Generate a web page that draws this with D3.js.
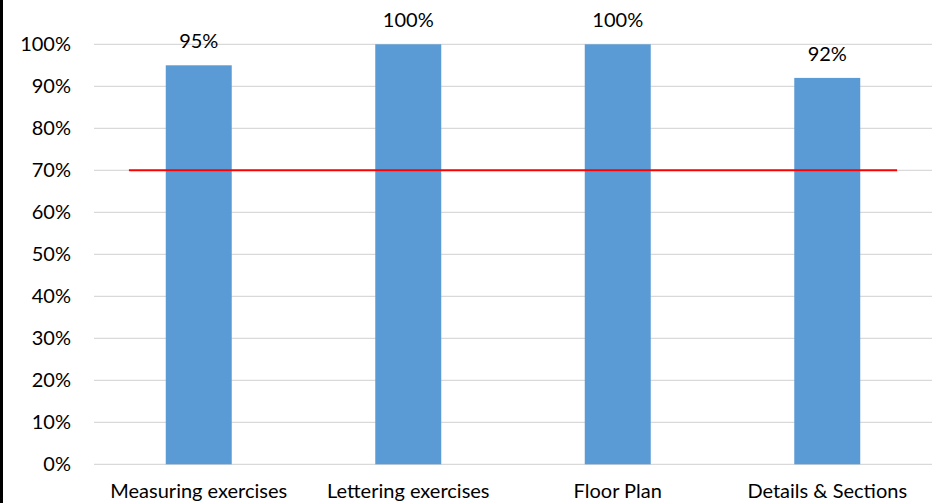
<!DOCTYPE html>
<html>
<head>
<meta charset="utf-8">
<script src="https://cdn.jsdelivr.net/npm/d3@7"></script>
<style>
  html, body { margin: 0; padding: 0; background: #fff; }
  svg { display: block; }
  text { font-family: Lato, "Open Sans", sans-serif; fill: #000; }
</style>
</head>
<body>
<svg id="chart" width="951" height="503"></svg>
<script>
// Completion rates per exercise, with the 70% target line
const categories = ["Measuring exercises", "Lettering exercises", "Floor Plan", "Details & Sections"];
const completion = [95, 100, 100, 92];
const target = 70;
const yTicks = [0, 10, 20, 30, 40, 50, 60, 70, 80, 90, 100];

const svg = d3.select("#chart");
const W = 951, H = 503;
const margin = { left: 94, right: 19, top: 44.3, bottom: 38.7 };
const fs = 20;

// frame edge on the left
svg.append("rect").attr("x", 0).attr("y", 0).attr("width", 3).attr("height", H).attr("fill", "#000");

const x = d3.scaleBand().domain(categories).range([margin.left, W - margin.right]).paddingInner(0).paddingOuter(0);
const y = d3.scaleLinear().domain([0, 100]).range([H - margin.bottom, margin.top]);
const barW = x.bandwidth() * 0.315;

// gridlines
svg.append("g").selectAll("line").data(yTicks).join("line")
  .attr("x1", margin.left).attr("x2", W - margin.right)
  .attr("y1", d => y(d)).attr("y2", d => y(d))
  .attr("stroke", "#d9d9d9").attr("stroke-width", 1.3);

// y axis labels
const yAxis = d3.axisLeft(y).tickValues(yTicks).tickFormat(d => d + "%").tickSize(0).tickPadding(0);
const yg = svg.append("g").attr("transform", `translate(${margin.left - 23},0)`).call(yAxis);
yg.select(".domain").remove();
yg.selectAll("text").attr("font-size", fs).attr("font-family", "Lato, sans-serif").attr("fill", "#000");

// bars
svg.append("g").selectAll("rect").data(completion).join("rect")
  .attr("x", (d, i) => x(categories[i]) + x.bandwidth() / 2 - barW / 2)
  .attr("width", barW)
  .attr("y", d => y(d))
  .attr("height", d => y(0) - y(d))
  .attr("fill", "#5b9bd5");

// value labels
svg.append("g").selectAll("text").data(completion).join("text")
  .attr("x", (d, i) => x(categories[i]) + x.bandwidth() / 2)
  .attr("y", d => y(d) - 17)
  .attr("text-anchor", "middle")
  .attr("font-size", fs)
  .text(d => d + "%");

// target line
const cx0 = x(categories[0]) + x.bandwidth() / 2;
const cx1 = x(categories[categories.length - 1]) + x.bandwidth() / 2;
svg.append("line")
  .attr("x1", cx0 - x.bandwidth() / 3).attr("x2", cx1 + x.bandwidth() / 3)
  .attr("y1", y(target)).attr("y2", y(target))
  .attr("stroke", "#ff0000").attr("stroke-width", 2);

// x axis labels
const xAxis = d3.axisBottom(x).tickSize(0).tickPadding(0);
const xg = svg.append("g").attr("transform", `translate(0,${y(0) + 34})`).call(xAxis);
xg.select(".domain").remove();
xg.selectAll("text").attr("font-size", fs).attr("font-family", "Lato, sans-serif").attr("fill", "#000").attr("dy", 0);
</script>
</body>
</html>
